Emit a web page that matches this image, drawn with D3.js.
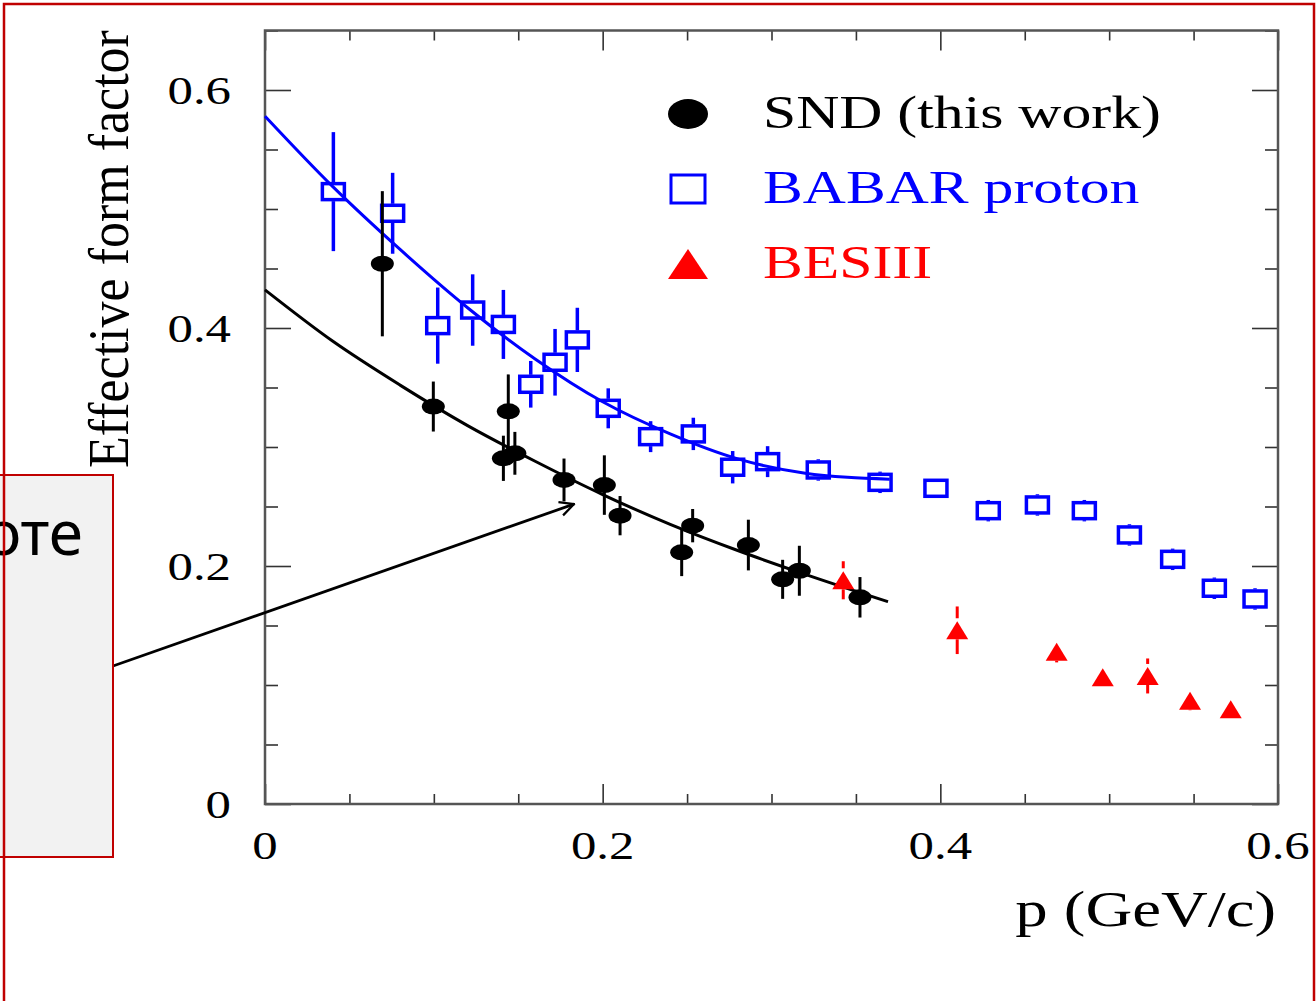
<!DOCTYPE html>
<html>
<head>
<meta charset="utf-8">
<script src="https://cdn.jsdelivr.net/npm/d3@7"></script>
<style>
  body { margin: 0; background: #fff; }
  svg { display: block; }
</style>
</head>
<body>
<svg id="chart" width="1316" height="1001"></svg>
<script>
// ---- data ----
// SND (this work)
const sndP = [0.0695, 0.0997, 0.1441, 0.1412, 0.148, 0.1771, 0.201, 0.2103, 0.2533, 0.2468, 0.2863, 0.3066, 0.3165, 0.3524]
const sndF = [0.454, 0.334, 0.330, 0.2905, 0.2947, 0.2723, 0.268, 0.2423, 0.2339, 0.2115, 0.2176, 0.1888, 0.196, 0.1737]
const sndErr = [0.061, 0.021, 0.031, 0.019, 0.018, 0.018, 0.025, 0.0165, 0.014, 0.02, 0.0213, 0.0164, 0.021, 0.017]

// BABAR proton
const babarP = [0.0405, 0.0756, 0.1023, 0.123, 0.1412, 0.1574, 0.1718, 0.185, 0.2033, 0.2284, 0.2537, 0.277, 0.2977, 0.3277, 0.3643, 0.3974, 0.4284, 0.4575, 0.4853, 0.512, 0.5376, 0.5623, 0.5864]
const babarF = [0.5146, 0.4964, 0.402, 0.4151, 0.403, 0.3527, 0.3712, 0.390, 0.3325, 0.3087, 0.311, 0.283, 0.2877, 0.2807, 0.2703, 0.2653, 0.2465, 0.2513, 0.2465, 0.2261, 0.2056, 0.1813, 0.1723]
const babarErr = [0.05, 0.034, 0.032, 0.03, 0.029, 0.0196, 0.028, 0.027, 0.0168, 0.013, 0.0136, 0.0136, 0.013, 0.009, 0.009, 0.008, 0.009, 0.009, 0.009, 0.009, 0.009, 0.009, 0.009]

// BESIII
const besP = [0.3425, 0.41, 0.4689, 0.4962, 0.5228, 0.5479, 0.572]
const besF = [0.188, 0.146, 0.128, 0.1065, 0.1076, 0.0868, 0.0796]
const besErr = [0.016, 0.02, 0.009, 0.004, 0.0147, 0.008, 0.004]

// fit curves
const sndFitP = [0, 0.04, 0.08, 0.12, 0.16, 0.2, 0.24, 0.28, 0.32, 0.369]
const sndFitF = [0.432, 0.389, 0.352, 0.318, 0.288, 0.260, 0.235, 0.213, 0.193, 0.170]
const babarFitP = [0, 0.04, 0.08, 0.12, 0.16, 0.2, 0.24, 0.28, 0.32, 0.345, 0.37]
const babarFitF = [0.578, 0.519, 0.466, 0.417, 0.374, 0.338, 0.311, 0.290, 0.278, 0.2745, 0.273]

// axes
const xMajor = [0, 0.2, 0.4, 0.6]
const xTickLabels = ['0', '0.2', '0.4', '0.6']
const yMajor = [0, 0.2, 0.4, 0.6]
const yTickLabels = ['0', '0.2', '0.4', '0.6']
const minorStep = 0.05

const legendLabels = ['SND (this work)', 'BABAR proton', 'BESIII']
const legendColors = ['#000000', '#0000ff', '#ff0000']

const serif = "'Liberation Serif', 'Times New Roman', serif"
const stretch = 1.27

let svg = d3.select('#chart')

svg.append('rect').attr('width', 1316).attr('height', 1001).attr('fill', '#fff')

let x = d3.scaleLinear().domain([0, 0.6]).range([265, 1278])
let y = d3.scaleLinear().domain([0, 0.65]).range([804, 804 - 0.65 * 1190])

let plotL = x(0), plotR = x(0.6), plotT = y(0.65), plotB = y(0)

// ticks
let xMinor = d3.range(0, 0.6001, minorStep).filter((v) => !xMajor.some((m) => Math.abs(m - v) < 1e-6))
let yMinor = d3.range(0, 0.6501, minorStep).filter((v) => !yMajor.some((m) => Math.abs(m - v) < 1e-6))

const addAxis = (axis, tx, ty) => {
  let g = svg.append('g').attr('transform', `translate(${tx},${ty})`).call(axis)
  g.select('.domain').remove()
  g.selectAll('line').attr('stroke', '#333').attr('stroke-width', 1.6)
  g.selectAll('text').remove()
}

addAxis(d3.axisBottom(x).tickValues(xMajor).tickSize(-20).tickFormat(''), 0, plotB)
addAxis(d3.axisBottom(x).tickValues(xMinor).tickSize(-10).tickFormat(''), 0, plotB)
addAxis(d3.axisTop(x).tickValues(xMajor).tickSize(-20).tickFormat(''), 0, plotT)
addAxis(d3.axisTop(x).tickValues(xMinor).tickSize(-10).tickFormat(''), 0, plotT)
addAxis(d3.axisLeft(y).tickValues(yMajor).tickSize(-26).tickFormat(''), plotL, 0)
addAxis(d3.axisLeft(y).tickValues(yMinor).tickSize(-13).tickFormat(''), plotL, 0)
addAxis(d3.axisRight(y).tickValues(yMajor).tickSize(-26).tickFormat(''), plotR, 0)
addAxis(d3.axisRight(y).tickValues(yMinor).tickSize(-13).tickFormat(''), plotR, 0)

// frame
svg.append('rect')
  .attr('x', plotL).attr('y', plotT)
  .attr('width', plotR - plotL).attr('height', plotB - plotT)
  .attr('fill', 'none').attr('stroke', '#555').attr('stroke-width', 2.5)

// tick labels
svg.selectAll('.x-lab')
  .data(xMajor)
  .enter()
  .append('text')
  .attr('class', 'x-lab')
  .attr('transform', (d) => `translate(${x(d)},859) scale(${stretch},1)`)
  .attr('text-anchor', 'middle')
  .style('font-family', serif)
  .style('font-size', '40px')
  .text((d, i) => xTickLabels[i])

svg.selectAll('.y-lab')
  .data(yMajor)
  .enter()
  .append('text')
  .attr('class', 'y-lab')
  .attr('transform', (d) => `translate(231,${y(d) + 14}) scale(${stretch},1)`)
  .attr('text-anchor', 'end')
  .style('font-family', serif)
  .style('font-size', '40px')
  .text((d, i) => yTickLabels[i])

// axis titles
svg.append('text')
  .text('p (GeV/c)')
  .attr('transform', `translate(1276,926) scale(${stretch},1)`)
  .attr('text-anchor', 'end')
  .style('font-family', serif)
  .style('font-size', '51px')

svg.append('text')
  .text('Effective form factor')
  .attr('transform', 'translate(128,249) scale(1.1,1) rotate(-90)')
  .attr('text-anchor', 'middle')
  .style('font-family', serif)
  .style('font-size', '52px')

// fit curves
let line = d3.line().x((d) => x(d[0])).y((d) => y(d[1])).curve(d3.curveMonotoneX)

svg.append('path')
  .datum(babarFitP.map((p, i) => [p, babarFitF[i]]))
  .attr('d', line)
  .attr('fill', 'none').attr('stroke', '#0000ff').attr('stroke-width', 3)

svg.append('path')
  .datum(sndFitP.map((p, i) => [p, sndFitF[i]]))
  .attr('d', line)
  .attr('fill', 'none').attr('stroke', '#000').attr('stroke-width', 3)

// BABAR: open squares, bars outside the marker
let sqW = 22, sqH = 16
let babar = babarP.map((p, i) => ({ p: p, f: babarF[i], e: babarErr[i] }))
let bg = svg.append('g')
babar.forEach((d) => {
  let cx = x(d.p), cy = y(d.f)
  let yt = y(d.f + d.e), yb = y(d.f - d.e)
  let half = sqH / 2 + 1.5
  if (cy - half > yt) {
    bg.append('line').attr('x1', cx).attr('x2', cx).attr('y1', yt).attr('y2', cy - half)
      .attr('stroke', '#0000ff').attr('stroke-width', 3.5)
  }
  if (yb > cy + half) {
    bg.append('line').attr('x1', cx).attr('x2', cx).attr('y1', cy + half).attr('y2', yb)
      .attr('stroke', '#0000ff').attr('stroke-width', 3.5)
  }
  bg.append('rect')
    .attr('x', cx - sqW / 2).attr('y', cy - sqH / 2)
    .attr('width', sqW).attr('height', sqH)
    .attr('fill', 'none').attr('stroke', '#0000ff').attr('stroke-width', 3.5)
})

// BESIII: filled triangles
const triPath = (cx, cy, w, h) => `M${cx},${cy - h / 2}L${cx + w / 2},${cy + h / 2}L${cx - w / 2},${cy + h / 2}Z`
let rg = svg.append('g')
besP.forEach((p, i) => {
  let cx = x(p), cy = y(besF[i])
  let yt = y(besF[i] + besErr[i]), yb = y(besF[i] - besErr[i])
  if (cy - 12 > yt) {
    rg.append('line').attr('x1', cx).attr('x2', cx).attr('y1', yt).attr('y2', cy - 12)
      .attr('stroke', '#ff0000').attr('stroke-width', 3)
  }
  if (yb > cy + 9) {
    rg.append('line').attr('x1', cx).attr('x2', cx).attr('y1', cy + 9).attr('y2', yb)
      .attr('stroke', '#ff0000').attr('stroke-width', 3)
  }
  rg.append('path').attr('d', triPath(cx, cy, 22, 18)).attr('fill', '#ff0000')
})

// SND: filled ellipses with bars
let sg = svg.append('g')
sndP.forEach((p, i) => {
  let cx = x(p)
  sg.append('line').attr('x1', cx).attr('x2', cx)
    .attr('y1', y(sndF[i] + sndErr[i])).attr('y2', y(sndF[i] - sndErr[i]))
    .attr('stroke', '#000').attr('stroke-width', 3)
})
sndP.forEach((p, i) => {
  sg.append('ellipse').attr('cx', x(p)).attr('cy', y(sndF[i]))
    .attr('rx', 11.5).attr('ry', 8).attr('fill', '#000')
})

// legend
let lg = svg.append('g')
let rowY = [114, 189, 264]
lg.append('ellipse').attr('cx', 688).attr('cy', rowY[0]).attr('rx', 20).attr('ry', 15).attr('fill', '#000')
lg.append('rect').attr('x', 688 - 17).attr('y', rowY[1] - 14).attr('width', 34).attr('height', 28)
  .attr('fill', 'none').attr('stroke', '#0000ff').attr('stroke-width', 3)
lg.append('path').attr('d', triPath(688, rowY[2], 40, 30)).attr('fill', '#ff0000')

lg.selectAll('.leg-text')
  .data(legendLabels)
  .enter()
  .append('text')
  .attr('class', 'leg-text')
  .attr('transform', (d, i) => `translate(763,${rowY[i] + 14}) scale(${stretch},1)`)
  .style('font-family', serif)
  .style('font-size', '47px')
  .attr('fill', (d, i) => legendColors[i])
  .text((d) => d)

// callout box with arrow
let defs = svg.append('defs')
defs.append('marker')
  .attr('id', 'arrowHead')
  .attr('viewBox', '0 0 12 12')
  .attr('refX', 11).attr('refY', 6)
  .attr('markerWidth', 6).attr('markerHeight', 6)
  .attr('markerUnits', 'strokeWidth')
  .attr('orient', 'auto')
  .append('path')
  .attr('d', 'M1,1 L11,6 L1,11')
  .attr('fill', 'none').attr('stroke', '#000').attr('stroke-width', 1.6)

svg.append('line')
  .attr('x1', 113).attr('y1', 666)
  .attr('x2', x(0.183)).attr('y2', y(0.252))
  .attr('stroke', '#000').attr('stroke-width', 2.8)
  .attr('marker-end', 'url(#arrowHead)')

svg.append('rect')
  .attr('x', -10).attr('y', 475).attr('width', 123).attr('height', 382)
  .attr('fill', '#f2f2f2').attr('stroke', '#c00000').attr('stroke-width', 2)

svg.append('text')
  .text('в работе')
  .attr('x', 83).attr('y', 555)
  .attr('text-anchor', 'end')
  .style('font-family', "'Noto Sans', 'Open Sans', sans-serif")
  .style('font-size', '62px')

// outer slide border
svg.append('rect')
  .attr('x', 4).attr('y', 4).attr('width', 1310).attr('height', 1020)
  .attr('fill', 'none').attr('stroke', '#c00000').attr('stroke-width', 2.5)
</script>
</body>
</html>
